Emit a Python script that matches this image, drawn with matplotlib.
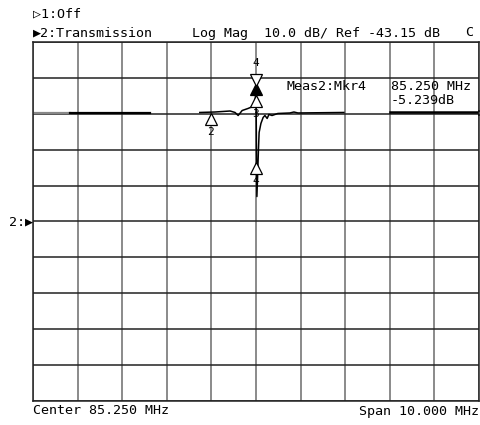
import matplotlib.pyplot as plt
import matplotlib.transforms as mtransforms
import numpy as np

plt.rcParams['font.family'] = ['DejaVu Sans Mono', 'DejaVu Sans']

# frequency axis (MHz) and log magnitude (dB)
CENTER = 85.25
SPAN = 10.0
REF = -43.15
SCALE = 10.0

# trace pieces, as shown on the screen
left_gray_f = [80.25, 81.08]
left_gray_db = [-13.06, -13.06]
left_f = [81.08, 82.87]
left_db = [-13.06, -13.06]
mid_f = [83.99, 84.33, 84.67, 84.78, 84.85, 84.94, 85.07, 85.18, 85.20, 85.235, 85.25,
         85.26, 85.27, 85.305, 85.32, 85.36, 85.41, 85.45, 85.50, 85.54, 85.61, 85.74,
         86.01, 86.10, 86.19, 87.22]
mid_db = [-12.78, -12.65, -12.37, -12.78, -13.62, -12.23, -11.67, -11.11, -11.11, -8.75, -5.24,
          -23.1, -36.2, -23.1, -18.35, -15.85, -14.17, -13.62, -14.45, -13.34, -13.62, -13.06,
          -12.92, -12.65, -12.92, -12.78]
right_f = [88.25, 90.25]
right_db = [-12.78, -12.78]

# markers: frequency, value, label
mkr_up_f = [84.24, 85.25, 85.25, 85.25]
mkr_up_db = [-13.06, -4.7, -8.05, -26.7]
mkr_up_lbl = ['2', '', '3', '4']
mkr_up_fill = [False, True, False, False]
mkr4_f = 85.25
mkr4_db = -5.239

W, H = 481, 425
fig = plt.figure(figsize=(W / 100, H / 100), dpi=100)
L, R, T, B = 33, 479, 42, 401
ax = fig.add_axes([L / W, 1 - B / H, (R - L) / W, (B - T) / H])

xmin, xmax = CENTER - SPAN / 2, CENTER + SPAN / 2
ymin, ymax = REF - 5 * SCALE, REF + 5 * SCALE
ax.set_xlim(xmin, xmax)
ax.set_ylim(ymin, ymax)
ax.set_xticks(np.linspace(xmin, xmax, 11))
ax.set_yticks(np.linspace(ymin, ymax, 11))
ax.tick_params(length=0, labelbottom=False, labelleft=False)
ax.xaxis.grid(True, color='#8a8a8a', lw=1.4)
ax.yaxis.grid(True, color='#222222', lw=1.1)
ax.set_axisbelow(True)
for s in ax.spines.values():
    s.set_color('#222222')
    s.set_linewidth(1.1)

ax.plot(left_gray_f, left_gray_db, color='#888888', lw=1.6)
ax.plot(left_f, left_db, color='black', lw=1.6)
ax.plot(mid_f, mid_db, color='black', lw=1.1)
ax.plot(right_f, right_db, color='black', lw=1.8)

below = mtransforms.offset_copy(ax.transData, fig=fig, x=0, y=-4, units='points')
above = mtransforms.offset_copy(ax.transData, fig=fig, x=0, y=4, units='points')
for f, v, lbl, fill in zip(mkr_up_f, mkr_up_db, mkr_up_lbl, mkr_up_fill):
    ax.plot(f, v, marker='^', ms=8, mfc='black' if fill else 'white', mec='black', mew=0.9,
            transform=below, clip_on=False)
    if lbl:
        ax.annotate(lbl, (f, v), xytext=(0, -13), textcoords='offset points',
                    ha='center', va='center', fontsize=8)
ax.plot(mkr4_f, mkr4_db, marker='v', ms=8, mfc='white', mec='black', mew=0.9,
        transform=above, clip_on=False)
ax.annotate('4', (mkr4_f, mkr4_db), xytext=(0, 16), textcoords='offset points',
            ha='center', va='center', fontsize=8)

def txt(x, y, s, **kw):
    kw.setdefault('fontsize', 9.6)
    fig.text(x / W, 1 - y / H, s, va='center', **kw)

txt(33, 14, '\u25b71:Off')
txt(33, 33, '\u25b62:Transmission')
txt(192, 33, 'Log Mag  10.0 dB/ Ref -43.15 dB')
txt(465, 33, 'C')
txt(287, 87, 'Meas2:Mkr4')
txt(391, 87, '85.250 MHz')
txt(391, 100, '-5.239dB')
txt(476, 113, ':', fontsize=7)
txt(33, 222, '2:\u25b6', ha='right')
txt(33, 411, 'Center 85.250 MHz')
txt(479, 411, 'Span 10.000 MHz', ha='right')

fig.savefig('out.png', dpi=100)
